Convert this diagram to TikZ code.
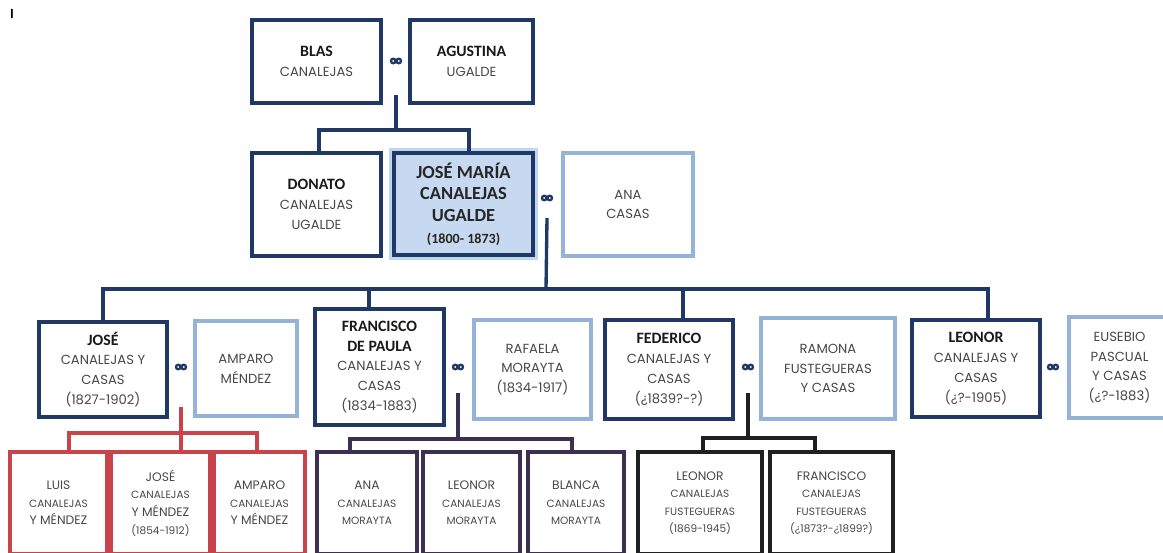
\documentclass[tikz,border=0pt]{standalone}
\usepackage{fontspec}
\setmainfont{Poppins}
\newfontfamily\namefont{Carlito}
\usetikzlibrary{positioning}
\definecolor{navy}{HTML}{1F3864}
\definecolor{pale}{HTML}{95B3D7}
\definecolor{mainfill}{HTML}{C6D9F1}
\definecolor{glow}{HTML}{BDD7EE}
\definecolor{kinred}{HTML}{C9434D}
\definecolor{kinpurple}{HTML}{3D2F52}
\definecolor{kinblack}{HTML}{202020}
\newcommand\nm[1]{{\namefont\bfseries\fontsize{9}{11.3}\selectfont\color{black!90} #1}}
\newcommand\sm[1]{{\fontsize{6}{10}\selectfont #1}}
\tikzset{
  pbox/.style 2 args={draw, line width=1.9pt, minimum width=#1*0.02cm,
    minimum height=#2*0.02cm, inner sep=0pt, align=center, text=black!72,
    font=\fontsize{7.5}{11.3}\selectfont},
  kid/.style={pbox={#1}{102}, font=\fontsize{7}{10}\selectfont},
  link/.style={inner sep=0pt, minimum width=.26cm, minimum height=.12cm},
  navyline/.style={draw=navy, line width=1.9pt},
}
\begin{document}
\begin{tikzpicture}[x=0.02cm, y=-0.02cm]
  \clip (0,0) rectangle (1163,552);
  \node[font=\namefont\bfseries\fontsize{8}{8}\selectfont] (mark) at (12,14) {I};
  % parents
  \node[pbox={129}{83}, draw=navy] (blas) at (316.5,61.5) {\nm{BLAS}\\CANALEJAS};
  \node[pbox={123}{83}, draw=navy] (agustina) at (471.5,61.5) {\nm{AGUSTINA}\\UGALDE};
  \node[link] (l1) at (396,61) {};
  % sons
  \node[pbox={129}{103}, draw=navy] (donato) at (316.5,204.5) {\nm{DONATO}\\CANALEJAS\\UGALDE};
  \node[pbox={139}{102}, draw=navy, line width=2.6pt, fill=mainfill,
    preaction={draw=glow, line width=6pt},
    font=\namefont\bfseries\fontsize{10.5}{12.3}\selectfont, text=black!85] (josemaria) at (463.5,204)
    {JOSÉ MARÍA\\CANALEJAS\\UGALDE\\{\fontsize{8}{12.3}\selectfont(1800- 1873)}};
  \node[pbox={130}{103}, draw=pale] (ana) at (628,204.5) {ANA\\CASAS};
  \node[link] (l2) at (547,198) {};
  % grandchildren
  \node[pbox={128}{95}, draw=navy] (jose) at (103,369.5) {\nm{JOSÉ}\\CANALEJAS Y\\CASAS\\(1827-1902)};
  \node[pbox={102}{95}, draw=pale] (amparo) at (246,368.5) {AMPARO\\MÉNDEZ};
  \node[link] (l3) at (181,367) {};
  \node[pbox={129}{116}, draw=navy] (francisco) at (379.5,367) {\nm{FRANCISCO}\\\nm{DE PAULA}\\CANALEJAS Y\\CASAS\\(1834-1883)};
  \node[pbox={117}{99}, draw=pale] (rafaela) at (532.5,369.5) {RAFAELA\\MORAYTA\\(1834-1917)};
  \node[link] (l4) at (458,367) {};
  \node[pbox={128}{99}, draw=navy] (federico) at (669,369.5) {\nm{FEDERICO}\\CANALEJAS Y\\CASAS\\(¿1839?-?)};
  \node[pbox={134}{101}, draw=pale] (ramona) at (828,368.5) {RAMONA\\FUSTEGUERAS\\Y CASAS};
  \node[link] (l5) at (748,367) {};
  \node[pbox={128}{97}, draw=navy] (leonor) at (976,368.5) {\nm{LEONOR}\\CANALEJAS Y\\CASAS\\(¿?-1905)};
  \node[pbox={101}{101}, draw=pale] (eusebio) at (1119.5,367.5) {EUSEBIO\\PASCUAL\\Y CASAS\\(¿?-1883)};
  \node[link] (l6) at (1053,367) {};
  % marriage links
  \foreach \l in {l1,l2,l3,l4,l5,l6}
    \draw[navy, line width=1.3pt] ([xshift=-.055cm]\l.center) circle (.045cm)
      ([xshift=.055cm]\l.center) circle (.045cm);
  % great-grandchildren
  \node[kid=97, draw=kinred] (luis) at (58.5,503) {LUIS\\\sm{CANALEJAS}\\Y MÉNDEZ};
  \node[kid=99, draw=kinred] (josecm) at (160.5,503) {JOSÉ\\\sm{CANALEJAS}\\Y MÉNDEZ\\\sm{(1854-1912)}};
  \node[kid=91, draw=kinred] (amparocm) at (259.5,503) {AMPARO\\\sm{CANALEJAS}\\Y MÉNDEZ};
  \node[kid=100, draw=kinpurple] (anacm) at (367,503) {ANA\\\sm{CANALEJAS}\\\sm{MORAYTA}};
  \node[kid=97, draw=kinpurple] (leonorcm) at (471.5,503) {LEONOR\\\sm{CANALEJAS}\\\sm{MORAYTA}};
  \node[kid=96, draw=kinpurple] (blancacm) at (576,503) {BLANCA\\\sm{CANALEJAS}\\\sm{MORAYTA}};
  \node[kid=124, draw=kinblack] (leonorcf) at (700,503) {LEONOR\\\sm{CANALEJAS}\\\sm{FUSTEGUERAS}\\\sm{(1869-1945)}};
  \node[kid=123, draw=kinblack] (franciscocf) at (831.5,503) {FRANCISCO\\\sm{CANALEJAS}\\\sm{FUSTEGUERAS}\\\sm{(¿1873?-¿1899?)}};
  % lines
  \coordinate (top) at (396,130);
  \draw[navyline] ([yshift=-.68cm]l1.center) -- (top);
  \draw[navyline] ([xshift=.05cm]donato.north) |- (top) -| ([xshift=.11cm]josemaria.north);
  \coordinate (bus) at (546,289);
  \draw[navyline] ([yshift=-.4cm]l2.center) -- (bus);
  \draw[navyline] (jose.north) |- (bus) -| ([xshift=.24cm]leonor.north);
  \draw[navyline] ([xshift=-.21cm]francisco.north) -- ++(0,-20);
  \draw[navyline] ([xshift=.28cm]federico.north) -- ++(0,-31);
  \coordinate (rbus) at (181,433);
  \draw[kinred, line width=1.9pt] ([yshift=-.8cm]l3.center) -- (rbus) -- (josecm.north -| rbus);
  \draw[kinred, line width=1.9pt] ([xshift=.21cm]luis.north) |- (rbus) -| ([xshift=-.05cm]amparocm.north);
  \coordinate (pbus) at (458,439);
  \draw[kinpurple, line width=1.9pt] ([yshift=-.52cm]l4.center) -- (pbus);
  \draw[kinpurple, line width=1.9pt] ([xshift=-.34cm]anacm.north) |- (pbus) -| ([xshift=-.08cm]blancacm.north);
  \coordinate (kbus) at (748,438);
  \draw[kinblack, line width=1.9pt] ([yshift=-.52cm]l5.center) -- (kbus);
  \draw[kinblack, line width=1.9pt] ([xshift=.06cm]leonorcf.north) |- (kbus) -| ([xshift=-.33cm]franciscocf.north);
\end{tikzpicture}
\end{document}
